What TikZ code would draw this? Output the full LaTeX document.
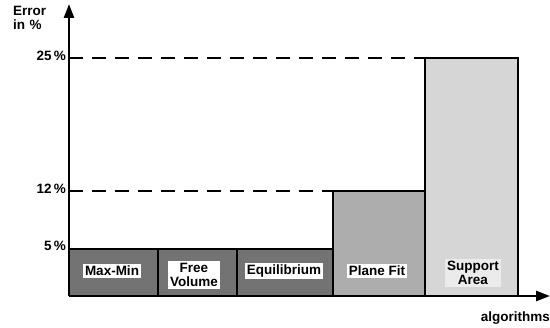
\documentclass[tikz,border=0pt]{standalone}
\usepackage{fontspec}
\setmainfont{Liberation Sans}
\usetikzlibrary{arrows.meta}
\begin{document}
\begin{tikzpicture}[x=1pt,y=-1pt,
  lbl/.style={font=\bfseries\fontsize{13.5}{14.5}\selectfont},
  inlbl/.style={lbl,fill=white,inner sep=2pt,align=center},
  bar/.style={draw=black,line width=2.2pt},
  refline/.style={line width=1.8pt,dash pattern=on 14pt off 9pt},
  axis/.style={line width=2.6pt,-{Triangle[width=10pt,length=14pt]}}]
\useasboundingbox (0,0) rectangle (550,328);
% bars
\fill[black!55] (69,249) rectangle (333,296);
\fill[black!32] (333,191) rectangle (425,296);
\fill[black!16] (425,58) rectangle (518,296);
\draw[bar] (69,296) -- (69,249) -- (333,249);
\draw[bar] (158,249) -- (158,296);
\draw[bar] (237,249) -- (237,296);
\draw[bar] (333,296) -- (333,191) -- (425,191) -- (425,296);
\draw[bar] (425,296) -- (425,58) -- (518,58) -- (518,296);
% dashed reference lines
\draw[refline] (69,58) -- (425,58);
\draw[refline] (69,191) -- (333,191);
% axes
\coordinate (o) at (69,296);
\coordinate (ytip) at (69,4);
\coordinate (xtip) at (550,296);
\draw[axis] (o) -- (ytip);
\draw[axis] (o) -- (xtip);
% axis labels
\node[lbl,anchor=north west,align=left,inner sep=0pt] (ylab) at (13,6) {Error\\in\,\,\%};
\node[lbl,anchor=east,inner sep=1pt] (t25) at (67,56) {25\,\%};
\node[lbl,anchor=east,inner sep=1pt] (t12) at (67,189) {12\,\%};
\node[lbl,anchor=east,inner sep=1pt] (t5) at (67,246) {5\,\%};
\node[lbl,anchor=east,inner sep=0pt] (xlab) at (550,318) {algorithms};
% bar labels
\node[inlbl] (mm) at (112,271) {Max-Min};
\node[inlbl] (fv) at (194,275) {Free\\Volume};
\node[inlbl] (eq) at (284,271) {Equilibrium};
\node[inlbl] (pf) at (377,271) {Plane Fit};
\node[inlbl,fill=black!8] (sa) at (473,273) {Support\\Area};
\end{tikzpicture}
\end{document}
